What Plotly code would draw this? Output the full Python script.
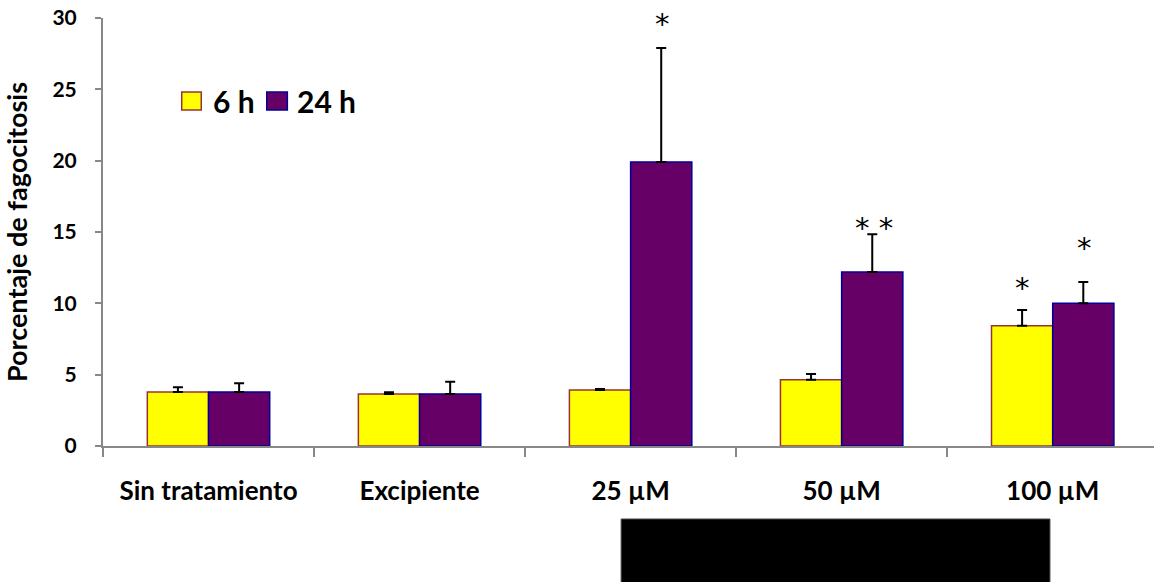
import plotly.graph_objects as go

categories = ["Sin tratamiento", "Excipiente", "25 µM", "50 µM", "100 µM"]
series_names = ["6 h", "24 h"]
h6 = [3.78, 3.65, 3.92, 4.65, 8.42]
h6_err = [0.33, 0.12, 0.08, 0.40, 1.11]
h24 = [3.78, 3.65, 19.9, 12.2, 10.0]
h24_err = [0.62, 0.85, 8.0, 2.65, 1.5]
y_ticks = [0, 5, 10, 15, 20, 25, 30]

# significance marks
stars_cat = ["25 µM", "50 µM", "100 µM", "100 µM"]
stars_series = ["24 h", "24 h", "6 h", "24 h"]
stars_text = ["*", "* *", "*", "*"]
stars_y = [30.0, 15.7, 11.5, 14.3]

FONT = "Lato"
YELLOW, YELLOW_EDGE = "#FFFF00", "#993333"
PURPLE, PURPLE_EDGE = "#660066", "#000099"

fig = go.Figure()
fig.add_trace(go.Bar(
    name=series_names[0], x=categories, y=h6, showlegend=False,
    marker=dict(color=YELLOW, line=dict(color=YELLOW_EDGE, width=1.5)),
    error_y=dict(type="data", array=h6_err, arrayminus=[0] * 5, symmetric=False,
                 color="black", thickness=2, width=5),
))
fig.add_trace(go.Bar(
    name=series_names[1], x=categories, y=h24, showlegend=False,
    marker=dict(color=PURPLE, line=dict(color=PURPLE_EDGE, width=1.5)),
    error_y=dict(type="data", array=h24_err, arrayminus=[0] * 5, symmetric=False,
                 color="black", thickness=2, width=5),
))

for c, s, t, yv in zip(stars_cat, stars_series, stars_text, stars_y):
    fig.add_annotation(x=c, y=yv, text=t, showarrow=False,
                       xshift=(-30.5 if s == "6 h" else 32), yshift=-6,
                       font=dict(family="DejaVu Sans", size=29, color="black"),
                       yanchor="middle")

# legend (drawn manually to match the large swatches)
legend_items = [
    (0.0749, 0.0935, 0.1028, YELLOW, YELLOW_EDGE, series_names[0]),
    (0.1558, 0.1754, 0.1827, PURPLE, PURPLE_EDGE, series_names[1]),
]
for x0, x1, xt, fc, lc, name in legend_items:
    fig.add_shape(type="rect", xref="paper", yref="paper",
                  x0=x0, x1=x1, y0=0.785, y1=0.827,
                  fillcolor=fc, line=dict(color=lc, width=1.5))
    fig.add_annotation(xref="paper", yref="paper", x=xt, y=0.806, text=name,
                       showarrow=False, xanchor="left", yanchor="middle",
                       font=dict(family=FONT, size=30, color="black", weight="bold"))

# redaction box below the axis
fig.add_shape(type="rect", xref="paper", yref="paper",
              x0=0.493, x1=0.901, y0=-0.32, y1=-0.1706,
              fillcolor="black", line=dict(color="#444", width=1))

fig.update_layout(
    width=1154, height=582,
    margin=dict(l=103, r=0, t=18, b=136, autoexpand=False),
    paper_bgcolor="white", plot_bgcolor="white",
    barmode="group", bargap=0.42, bargroupgap=0,
    font=dict(family=FONT, color="black"),
    showlegend=False,
)
fig.update_xaxes(
    range=[-0.5, 4.48], showline=True, linecolor="#888888", linewidth=2,
    ticks="outside", tickson="boundaries", ticklen=9, tickcolor="#888888", tickwidth=2,
    tickfont=dict(family=FONT, size=26, color="black", weight="bold"),
    ticklabelstandoff=21, showgrid=False, zeroline=False, automargin=False,
)
fig.update_yaxes(
    range=[0, 30], tickvals=y_ticks, showline=True, linecolor="#888888", linewidth=2,
    ticks="outside", ticklen=6, tickcolor="#888888", tickwidth=2,
    tickfont=dict(family=FONT, size=21, color="black", weight="bold"),
    ticklabelstandoff=14, ticklabeloverflow="allow",
    showgrid=False, zeroline=False, automargin=False,
    title=dict(text="Porcentaje de fagocitosis",
               font=dict(family=FONT, size=27, color="black", weight="bold"), standoff=17),
)
fig.write_html("out.html", config={"displayModeBar": False},
               post_script="document.body.style.margin='0';document.body.style.overflow='hidden';")
